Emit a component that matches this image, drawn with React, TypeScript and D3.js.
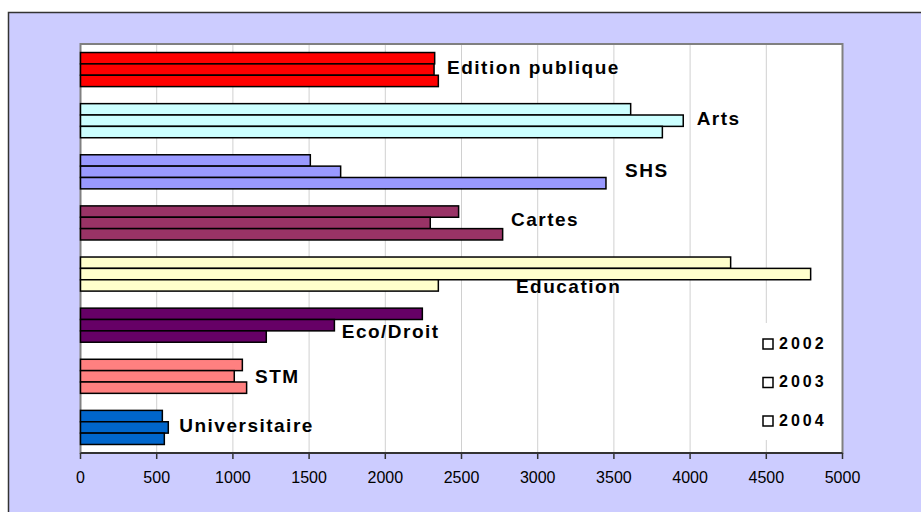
import React from "react";
import * as d3 from "d3";

const categories = ["Edition publique", "Arts", "SHS", "Cartes", "Education", "Eco/Droit", "STM", "Universitaire"];
const years = ["2002", "2003", "2004"];
const v2002 = [2324, 3610, 1508, 2481, 4266, 2243, 1062, 537];
const v2003 = [2320, 3955, 1707, 2295, 4791, 1666, 1009, 576];
const v2004 = [2348, 3818, 3448, 2770, 2348, 1219, 1090, 550];
const series = [v2002, v2003, v2004];
const barColors = ["#FF0000", "#CCFFFF", "#9999FF", "#993366", "#FFFFCC", "#660066", "#FF8080", "#0066CC"];
// where each category label sits (value units, fraction of the band)
const labelValue = [2405, 4043, 3573, 2825, 2857, 1714, 1145, 648];
const labelBand = [0.49, 0.49, 0.5, 0.46, 0.78, 0.66, 0.53, 0.5];

export default function App() {
    const width = 921;
    const height = 512;
    const plot = { left: 80.5, right: 842.5, top: 44, bottom: 453 };

    const x = d3.scaleLinear().domain([0, 5000]).range([plot.left, plot.right]);
    const y = d3
        .scaleBand<string>()
        .domain(categories)
        .range([plot.top, plot.bottom])
        .paddingInner(1 / 3)
        .paddingOuter(1 / 6);
    const ySub = d3.scaleBand<string>().domain(years).range([0, y.bandwidth()]);
    const ticks = x.ticks(10);

    return (
        <svg
            width={width}
            height={height}
            style={{ position: "absolute", left: 0, top: 0, fontFamily: "'Liberation Sans', Arial, sans-serif" }}
        >
            {/* outer chart area */}
            <rect x={8.5} y={12.5} width={width + 20} height={height + 20} fill="#CCCCFF" stroke="#333" strokeWidth={1.5} />

            {/* plot area */}
            <rect
                x={plot.left}
                y={plot.top}
                width={plot.right - plot.left}
                height={plot.bottom - plot.top}
                fill="#fff"
                stroke="#808080"
                strokeWidth={2}
            />

            {/* gridlines */}
            {ticks.slice(1, -1).map((t) => (
                <line key={t} x1={x(t)} x2={x(t)} y1={plot.top + 1} y2={plot.bottom} stroke="#D0D0D0" strokeWidth={1} />
            ))}

            {/* bars */}
            {categories.map((c, i) =>
                years.map((yr, s) => (
                    <rect
                        key={c + yr}
                        x={x(0)}
                        y={(y(c) as number) + (ySub(yr) as number)}
                        width={x(series[s][i]) - x(0)}
                        height={ySub.bandwidth()}
                        fill={barColors[i]}
                        stroke="#000"
                        strokeWidth={1.5}
                    />
                ))
            )}

            {/* category labels */}
            {categories.map((c, i) => (
                <text
                    key={c}
                    x={x(labelValue[i])}
                    y={(y(c) as number) - y.step() * (1 / 6) + y.step() * labelBand[i]}
                    dominantBaseline="middle"
                    fontSize={19}
                    fontWeight="bold"
                    letterSpacing={1.5}
                    fill="#000"
                >
                    {c}
                </text>
            ))}

            {/* legend */}
            <rect x={755} y={323} width={80} height={117} fill="#fff" />
            {years.map((yr, k) => (
                <g key={yr} transform={`translate(763, ${344 + k * 38.5})`}>
                    <rect x={0} y={-5} width={10} height={10} fill="#fff" stroke="#000" strokeWidth={1.5} />
                    <text x={16} y={0.5} dominantBaseline="middle" fontSize={16} fontWeight="bold" letterSpacing={3}>
                        {yr}
                    </text>
                </g>
            ))}

            {/* x axis */}
            <line x1={plot.left} x2={plot.right} y1={plot.bottom} y2={plot.bottom} stroke="#333" strokeWidth={2} />
            {ticks.map((t) => (
                <g key={t} transform={`translate(${x(t)}, ${plot.bottom})`}>
                    <line y1={0} y2={6} stroke="#333" strokeWidth={1.5} />
                    <text y={26} textAnchor="middle" dominantBaseline="middle" fontSize={16} fill="#000">
                        {t}
                    </text>
                </g>
            ))}
        </svg>
    );
}
